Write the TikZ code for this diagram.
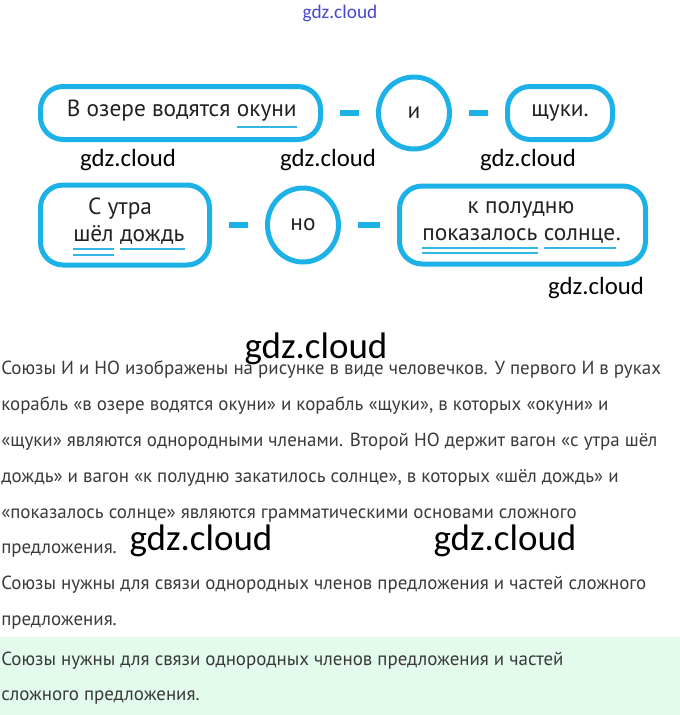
\documentclass[tikz,border=0pt]{standalone}
\usepackage{fontspec}
\setmainfont{PT Sans}
\newfontfamily\wmfont{Carlito}
\usetikzlibrary{shapes.geometric,calc}
\definecolor{sky}{RGB}{28,178,232}
\definecolor{skyline}{RGB}{52,182,226}
\definecolor{ink}{RGB}{34,34,34}
\definecolor{prose}{RGB}{58,58,58}
\definecolor{mint}{RGB}{226,251,236}
\definecolor{stampblue}{RGB}{70,70,210}
\newcommand\boxfont{\fontsize{17.5}{20}\selectfont}
\tikzset{pill/.style={draw=sky,line width=3.75pt,rounded corners=17pt,fill=white,inner sep=0pt,
 font=\boxfont,text=ink},
 joint/.style={draw=sky,line width=3.75pt,ellipse,inner sep=0pt,minimum width=53.25pt,
 font=\boxfont,text=ink},
 link/.style={draw=sky,line width=4.5pt,shorten >=13pt,shorten <=13pt},
 word/.style={inner sep=0pt,font=\boxfont,text=ink},
 uline/.style={draw=skyline,line width=2.2pt},
 para/.style={anchor=base west,inner sep=0pt,font=\fontsize{14.2}{17}\selectfont,text=prose},
 wm/.style={anchor=base,inner sep=0pt,font=\wmfont\fontsize{18.6}{20}\selectfont},
 bigwm/.style={wm,font=\wmfont\fontsize{27.7}{30}\selectfont}}

\begin{document}
\begin{tikzpicture}[x=0.75pt,y=-0.75pt]
\useasboundingbox (0,0) rectangle (680,715);
\fill[mint] (0,637) rectangle (680,715);
\node[wm,text=stampblue,font=\wmfont\fontsize{14.5}{16}\selectfont] (top) at (340,18) {gdz.cloud};
% first row
\node[pill,minimum width=210pt,minimum height=39.75pt] (lake) at (180.5,113) {};
\node[joint,minimum height=54pt] (andc) at (414,113) {и};
\node[pill,minimum width=78.75pt,minimum height=39.75pt] (pike) at (560,113) {щуки.};
\node[word,anchor=base east] (perch) at (297,116) {окуни};
\node[word,anchor=base east,xshift=-4.5pt] (lakeA) at (perch.base west) {В озере водятся};
\draw[uline] ($(perch.base west)+(0,11)$) -- ($(perch.base east)+(0,11)$);
\draw[link] (lake) -- (andc);
\draw[link] (andc) -- (pike);
\node[wm] (wm1) at (128,166) {gdz.cloud};
\node[wm] (wm2) at (328,166) {gdz.cloud};
\node[wm] (wm3) at (528,166) {gdz.cloud};
% second row
\node[pill,minimum width=126.75pt,minimum height=60pt] (rain) at (125,225) {};
\node[word,anchor=base] (morn) at (120,214) {С утра};
\node[word,anchor=base west] (went) at (73,241) {шёл};
\node[word,anchor=base west,xshift=4.5pt] (drops) at (went.base east) {дождь};
\draw[uline] ($(went.base west)+(0,8)$) -- ($(went.base east)+(0,8)$);
\draw[uline] ($(went.base west)+(0,14)$) -- ($(went.base east)+(0,14)$);
\draw[uline] ($(drops.base west)+(0,8)$) -- ($(drops.base east)+(0,8)$);
\node[joint,minimum height=55.5pt] (butc) at (303,225) {но};
\node[pill,minimum width=184.5pt,minimum height=58.5pt] (sun) at (522.5,225) {};
\node[word,anchor=base] (noon) at (521,213) {к полудню};
\node[word,anchor=base west] (shown) at (422,240) {показалось};
\node[word,anchor=base west,xshift=4.5pt] (star) at (shown.base east) {солнце};
\node[word,anchor=base west] (dot) at (star.base east) {.};
\draw[uline] ($(shown.base west)+(0,8)$) -- ($(shown.base east)+(0,8)$);
\draw[uline] ($(shown.base west)+(0,13)$) -- ($(shown.base east)+(0,13)$);
\draw[uline] ($(star.base west)+(0,8)$) -- ($(star.base east)+(0,8)$);
\draw[link] (rain) -- (butc);
\draw[link] (butc) -- (sun);
\node[wm] (wm4) at (596,294) {gdz.cloud};
% explanation
\node[para] (l1) at (1,374) {Союзы И и НО изображены на рисунке в виде человечков. У первого И в руках};
\node[para] (l2) at (1,410) {корабль «в озере водятся окуни» и корабль «щуки», в которых «окуни» и};
\node[para] (l3) at (1,446) {«щуки» являются однородными членами. Второй НО держит вагон «с утра шёл};
\node[para] (l4) at (1,482) {дождь» и вагон «к полудню закатилось солнце», в которых «шёл дождь» и};
\node[para] (l5) at (1,518) {«показалось солнце» являются грамматическими основами сложного};
\node[para] (l6) at (1,553) {предложения.};
\node[para] (l7) at (1,589) {Союзы нужны для связи однородных членов предложения и частей сложного};
\node[para] (l8) at (1,625) {предложения.};
\node[para] (l9) at (1,665) {Союзы нужны для связи однородных членов предложения и частей};
\node[para] (l10) at (1,700) {сложного предложения.};
\node[bigwm] (wm5) at (316,358) {gdz.cloud};
\node[bigwm] (wm6) at (201,550) {gdz.cloud};
\node[bigwm] (wm7) at (505,550) {gdz.cloud};
\end{tikzpicture}
\end{document}
